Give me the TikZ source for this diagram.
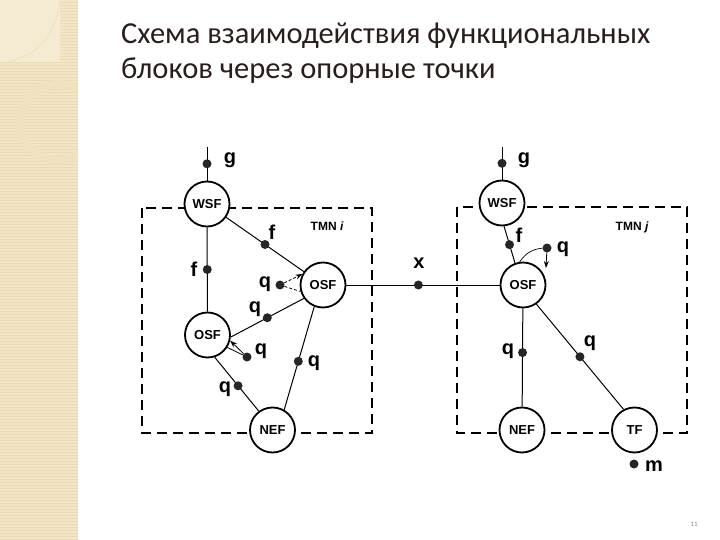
\documentclass[tikz,border=0pt]{standalone}
\usepackage{fontspec}
\setmainfont{Carlito}
\newfontfamily\diagfont{Liberation Sans}
\usetikzlibrary{arrows.meta}
\definecolor{strip}{HTML}{F3E6C7}
\definecolor{stripline}{HTML}{EADBB4}
\definecolor{stripring}{HTML}{EFE2BE}
\definecolor{titlecol}{HTML}{2A1E1C}
\begin{document}
\begin{tikzpicture}[x=1pt,y=-1pt,
  fn/.style={circle,draw,line width=1.8pt,fill=white,minimum size=45pt,inner sep=0pt,
    font=\diagfont\bfseries\fontsize{13}{13}\selectfont},
  dot/.style={circle,fill=black!85,inner sep=0pt,minimum size=9pt},
  lbl/.style={font=\diagfont\bfseries\fontsize{20}{20}\selectfont,inner sep=0pt},
  tmnlbl/.style={font=\diagfont\bfseries\fontsize{12}{12}\selectfont,inner sep=0pt},
  conn/.style={line width=1pt},
  qarrow/.style={line width=0.8pt,-{Stealth[length=7pt,width=5pt]}},
  tmnbox/.style={dash pattern=on 10pt off 6pt,line width=1.8pt},
  ttl/.style={font=\fontsize{30.5}{30.5}\selectfont,text=titlecol,inner sep=0pt,anchor=base west}
]
\useasboundingbox (0,0) rectangle (720,540);
\fill[white] (0,0) rectangle (720,540);
% decorative strip
\begin{scope}
  \clip (0,0) rectangle (78,540);
  \fill[strip] (0,0) rectangle (78,540);
  \foreach \yy in {2,5,...,540} { \draw[stripline,line width=0.6pt] (0,\yy) -- (78,\yy); }
  \draw[stripring,line width=8pt] (58,122) circle[radius=38];
  \fill[strip!80!white] (0,0) rectangle (60,62);
  \draw[stripring,line width=1pt] (60,0) .. controls (55,40) and (35,55) .. (8,62);
\end{scope}

% title
\node[ttl] (t1) at (121,44) {Схема взаимодействия функциональных};
\node[ttl] (t2) at (121,79) {блоков через опорные точки};

% TMN boxes
\draw[tmnbox] (142,208) rectangle (372,433);
\draw[tmnbox] (457,207) rectangle (687,433);

% left system nodes
\node[fn] (wsfL) at (207,204) {WSF};
\node[fn] (osfA) at (323,285) {OSF};
\node[fn] (osfB) at (207.5,335) {OSF};
\node[fn] (nefL) at (272.5,430) {NEF};
% right system nodes
\node[fn] (wsfR) at (502,203) {WSF};
\node[fn] (osfR) at (523,285) {OSF};
\node[fn] (nefR) at (522,430) {NEF};
\node[fn] (tfR) at (634.5,430) {TF};

\coordinate (gtopL) at (207,147);
\coordinate (gtopR) at (502,147);

% left connectors
\draw[conn] (gtopL) -- node[dot,pos=0.5] (gdotL) {} (wsfL);
\draw[conn] (wsfL) -- node[dot,pos=0.5] (fdotA) {} (osfB);
\draw[conn] (wsfL) -- node[dot,pos=0.5] (fdotB) {} (osfA);
\draw[conn] (osfA.215) -- node[dot,pos=0.5] (qdotA) {} (osfB.-5);
\draw[conn] (osfB.-72) -- node[dot,pos=0.53] (qdotB) {} (nefL.126);
\draw[conn] (osfA.-112) -- node[dot,pos=0.53] (qdotC) {} (nefL.60);
\node[dot] (qdotD) at (280,285) {};
\draw[qarrow,dash pattern=on 3pt off 2pt] (qdotD) -- (osfA.152);
\draw[conn,line width=0.8pt,dash pattern=on 3pt off 2pt] (qdotD) -- (osfA.196);
\node[dot] (qdotE) at (247,357) {};
\draw[conn,line width=0.8pt] (osfB.-32) -- (qdotE);
\draw[qarrow] (qdotE) -- (osfB.-14);
\draw[conn] (osfA) -- node[dot,pos=0.47] (xdot) {} (osfR);

% right connectors
\draw[conn] (gtopR) -- node[dot,pos=0.5] (gdotR) {} (wsfR);
\draw[conn] (wsfR.-85) -- node[dot,pos=0.5] (fdotR) {} (osfR.110);
\draw[conn] (osfR) -- node[dot,pos=0.45] (qdotR1) {} (nefR);
\draw[conn] (osfR.-55) -- node[dot,pos=0.5] (qdotR2) {} (tfR.118);
\node[dot] (qdotR3) at (547,248) {};
\draw[line width=0.7pt] (osfR.98) to[bend left=25] (qdotR3);
\coordinate (qendR) at (546,268);
\draw[qarrow] (qdotR3) -- (qendR);
\node[dot] (mdot) at (634,464) {};

% labels
\node[lbl] (lg1) at (230,160) {g};
\node[lbl] (lf1) at (194,269) {f};
\node[lbl] (lf2) at (272,232) {f};
\node[tmnlbl] (ltmni) at (327,226) {TMN \itshape i};
\node[lbl] (lq1) at (265,284) {q};
\node[lbl] (lq2) at (255,309) {q};
\node[lbl] (lq3) at (261,351) {q};
\node[lbl] (lq4) at (225,389) {q};
\node[lbl] (lq5) at (314,363) {q};
\node[lbl] (lx) at (419,263) {x};
\node[lbl] (lg2) at (524,160) {g};
\node[lbl] (lf3) at (519,235) {f};
\node[lbl] (lq6) at (563,249) {q};
\node[tmnlbl] (ltmnj) at (632,227) {TMN \itshape j};
\node[lbl] (lq7) at (508,351) {q};
\node[lbl] (lq8) at (590,343) {q};
\node[lbl] (lm) at (654,466) {m};

\node[font=\fontsize{7}{7}\selectfont,text=black!45,inner sep=0pt] (pg) at (694,524) {11};
\end{tikzpicture}
\end{document}
